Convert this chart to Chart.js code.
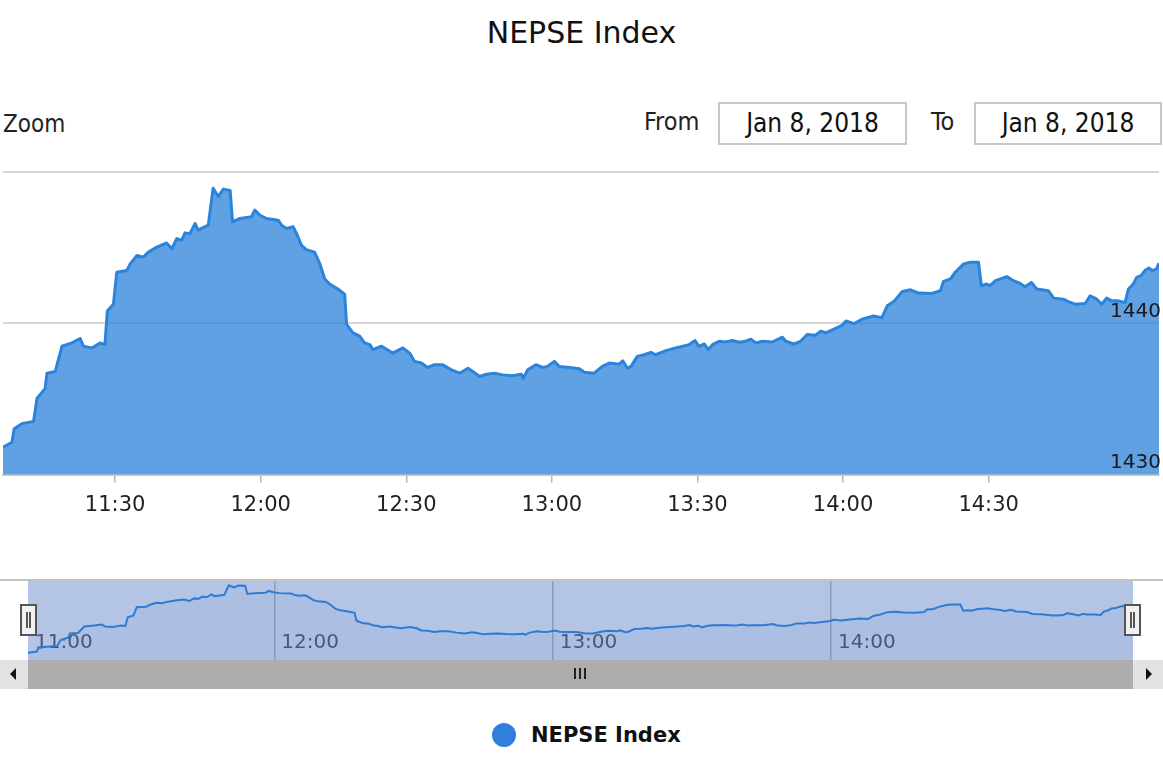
<!DOCTYPE html>
<html><head><meta charset="utf-8">
<script src="https://cdn.jsdelivr.net/npm/chart.js@4.4.1/dist/chart.umd.min.js"></script>
<style>
html,body{margin:0;padding:0;background:#fff;}
body{width:1163px;height:773px;position:relative;overflow:hidden;font-family:'DejaVu Sans',sans-serif;}
.abs{position:absolute;}
#title{left:0;top:12px;width:1163px;text-align:center;font-size:30px;color:#111;line-height:42px;}
.cond{font-family:'DejaVu Sans Condensed','DejaVu Sans',sans-serif;font-stretch:condensed;font-size:24px;color:#222;line-height:32px;}
#zoom{left:3px;top:108px;}
#fromLbl{left:644px;top:106px;font-size:25px;}
#toLbl{left:931px;top:106px;font-size:25px;}
.box{border:2px solid #c8c8c8;box-sizing:border-box;height:43px;top:102px;text-align:center;line-height:39px;color:#111;font-size:26px;}
#fromBox{left:718px;width:189px;}
#toBox{left:974px;width:188px;}
#mainWrap{left:0;top:158px;width:1163px;height:375px;}
#navLine{left:0;top:579px;width:1163px;height:2px;background:#c2c2c2;}
#navWrap{left:28px;top:581px;width:1105px;height:79px;background:#b4c4e4;}
.handle{width:13px;height:28px;top:604px;background:#f2f2f2;border:2px solid #555;}
.handle i{position:absolute;top:6px;width:2px;height:16px;background:#555;}
#hL{left:20px;} #hR{left:1124px;}
#scrollL{left:0;top:660px;width:28px;height:29px;background:#e2e2e2;}
#scrollBar{left:28px;top:660px;width:1105px;height:29px;background:#adadad;}
#scrollR{left:1133px;top:660px;width:30px;height:29px;background:#e2e2e2;}
.tri{position:absolute;top:8px;width:0;height:0;border-top:6px solid transparent;border-bottom:6px solid transparent;}
#triL{left:10px;border-right:6px solid #111;}
#triR{left:13px;border-left:6px solid #111;}
.grip{position:absolute;top:8px;width:2px;height:11px;background:#222;}
#legDot{left:492px;top:723px;width:24px;height:24px;border-radius:50%;background:#2f80db;}
#legTxt{left:531px;top:719px;font-size:21px;font-weight:bold;color:#111;line-height:32px;}
</style></head>
<body>
<div id="title" class="abs">NEPSE Index</div>
<div id="zoom" class="abs cond">Zoom</div>
<div id="fromLbl" class="abs cond">From</div>
<div id="fromBox" class="abs box cond">Jan 8, 2018</div>
<div id="toLbl" class="abs cond">To</div>
<div id="toBox" class="abs box cond">Jan 8, 2018</div>
<div id="mainWrap" class="abs"><canvas id="main" width="1163" height="375"></canvas></div>
<div id="navLine" class="abs"></div>
<div id="navWrap" class="abs"><canvas id="nav" width="1105" height="79"></canvas></div>
<div id="hL" class="abs handle"><i style="left:4px"></i><i style="left:7px"></i></div>
<div id="hR" class="abs handle"><i style="left:4px"></i><i style="left:7px"></i></div>
<div id="scrollL" class="abs"><div id="triL" class="tri"></div></div>
<div id="scrollBar" class="abs"><div class="grip" style="left:546px"></div><div class="grip" style="left:551px"></div><div class="grip" style="left:556px"></div></div>
<div id="scrollR" class="abs"><div id="triR" class="tri"></div></div>
<div id="legDot" class="abs"></div>
<div id="legTxt" class="abs">NEPSE Index</div>
<script>
// Minutes after 11:00 on Jan 8, 2018
const minutes = [6.9,8.75,9.2,10.8,13.2,13.9,15.6,15.95,17.66,19.04,21.1,22.8,23.5,25.2,26.9,27.9,28.4,29.65,30.35,32.4,33.1,34.5,35.8,36.85,38.6,40.6,41.7,42.7,43.7,44.4,45.4,46.5,47.1,49.2,50.2,51.25,52.3,53.7,54.2,55.7,58.1,58.8,59.8,61.2,63.6,64.3,65.3,66.7,67.4,68.4,69.4,71.1,72.2,73.2,74.2,75.9,77.3,77.7,79.0,80.4,81.4,82.5,83.1,84.9,87.2,89.3,90.7,91.7,93.1,94.4,95.8,97.5,99.3,101.0,102.7,103.7,105.1,106.5,108.2,109.9,111.9,113.7,114.1,115.0,116.7,118.1,119.1,120.5,121.5,123.6,125.65,126.7,128.7,130.4,131.8,133.9,134.6,135.6,136.3,137.6,139.0,140.4,141.4,143.5,145.5,148.3,149.5,150.3,151.4,152.25,153.1,154.45,155.8,157.2,158.6,159.9,161.0,162.0,163.4,165.4,167.5,168.2,169.9,171.25,172.6,174.3,175.4,176.4,178.45,179.8,180.6,182.2,183.9,186.3,188.0,189.1,190.45,192.2,193.9,195.6,198.3,200.05,200.7,202.1,203.1,204.85,206.2,207.9,208.5,209.6,210.3,211.4,213.75,215.1,216.5,217.5,218.8,219.9,222.3,223.4,225.4,226.4,227.8,229.9,230.9,232.3,233.3,234.3,235.35,236.7,238.1,238.8,239.8,240.5,241.4,242.2,243.0,243.7,244.6,245.1];
const values = [1431.82,1432.15,1433.04,1433.38,1433.53,1435.04,1435.71,1436.71,1436.82,1438.49,1438.71,1439.0,1438.49,1438.38,1438.71,1438.6,1440.82,1441.27,1443.38,1443.49,1443.93,1444.49,1444.38,1444.71,1445.04,1445.31,1444.93,1445.6,1445.49,1445.98,1445.93,1446.6,1446.16,1446.49,1448.93,1448.38,1448.87,1448.78,1446.71,1446.93,1447.04,1447.49,1447.16,1446.93,1446.82,1446.49,1446.27,1446.38,1445.93,1445.16,1444.87,1444.71,1443.93,1442.93,1442.6,1442.27,1441.93,1439.93,1439.38,1439.16,1438.71,1438.6,1438.27,1438.49,1438.04,1438.38,1438.04,1437.49,1437.38,1437.09,1437.27,1437.27,1436.93,1436.71,1437.04,1436.82,1436.49,1436.64,1436.71,1436.6,1436.55,1436.64,1436.38,1436.93,1437.27,1437.09,1437.16,1437.49,1437.16,1437.08,1437.0,1436.78,1436.71,1437.16,1437.38,1437.31,1437.53,1437.04,1437.16,1437.82,1437.93,1438.09,1437.93,1438.2,1438.38,1438.6,1438.87,1438.49,1438.64,1438.27,1438.6,1438.82,1438.78,1438.87,1438.76,1438.82,1438.96,1438.71,1438.82,1438.77,1439.09,1438.82,1438.64,1438.82,1439.27,1439.22,1439.49,1439.38,1439.67,1439.87,1440.16,1439.98,1440.27,1440.49,1440.38,1441.16,1441.44,1442.11,1442.22,1442.0,1441.98,1442.16,1442.78,1442.93,1443.38,1443.93,1444.04,1444.04,1442.49,1442.6,1442.49,1442.82,1443.09,1442.82,1442.64,1442.42,1442.71,1442.27,1442.16,1441.67,1441.6,1441.44,1441.27,1441.31,1441.82,1441.6,1441.27,1441.67,1441.49,1441.49,1441.38,1442.27,1442.6,1443.04,1443.16,1443.49,1443.66,1443.49,1443.6,1443.98];
const mainTickMinutes = [30,60,90,120,150,180,210];
const yTickValues = [1430,1440,1450];
const navTickMinutes = [60,120,180];
const navTickLabels = ['11:00','12:00','13:00','14:00'];
const startHour = 11;

function fmt(m){const t=Math.round(m);return (startHour+Math.floor(t/60))+':'+String(t%60).padStart(2,'0');}
const points = minutes.map((m,i)=>({x:m,y:values[i]}));
const xMin = minutes[0], xMax = minutes[minutes.length-1];

new Chart(document.getElementById('main'),{
  type:'line',
  data:{datasets:[{label:'NEPSE Index',data:points,borderColor:'#2a84dc',borderWidth:3,
    backgroundColor:'rgba(42,130,218,0.75)',fill:'start',pointRadius:0,tension:0,borderJoinStyle:'round'}]},
  options:{animation:false,responsive:false,events:[],
    layout:{padding:{left:3,right:0,top:10,bottom:5}},
    plugins:{legend:{display:false},tooltip:{enabled:false}},
    scales:{
      x:{type:'linear',min:xMin,max:xMax,
        afterBuildTicks:s=>{s.ticks=mainTickMinutes.map(v=>({value:v}));},
        grid:{drawOnChartArea:false,drawTicks:true,tickLength:8,color:'#b8b8b8',lineWidth:1.5},
        border:{display:true,color:'#cccccc',width:2},
        ticks:{padding:10,maxRotation:0,autoSkip:false,color:'#222',font:{family:'DejaVu Sans',size:21},callback:v=>fmt(v)}},
      y:{position:'right',min:1430,max:1450,
        afterBuildTicks:s=>{s.ticks=yTickValues.map(v=>({value:v}));},
        grid:{drawTicks:false,color:'#d6d6d6',lineWidth:2},border:{display:false},
        ticks:{z:1,mirror:true,padding:2,labelOffset:-12,color:'#1a1a1a',font:{family:'DejaVu Sans',size:20},
          callback:v=>v===1450?'':String(v)}}
    }}
});

new Chart(document.getElementById('nav'),{
  type:'line',
  data:{datasets:[{data:points,borderColor:'#2d7bd2',borderWidth:2,backgroundColor:'rgba(45,123,210,0.06)',
    fill:'start',pointRadius:0,tension:0}]},
  options:{animation:false,responsive:false,events:[],
    layout:{padding:0},
    plugins:{legend:{display:false},tooltip:{enabled:false}},
    scales:{
      x:{type:'linear',min:xMin,max:xMax,
        afterBuildTicks:s=>{s.ticks=[xMin].concat(navTickMinutes).map(v=>({value:v}));},
        grid:{drawOnChartArea:true,drawTicks:false,lineWidth:1.5,color:c=>c.index===0?'rgba(0,0,0,0)':'#8e9cba'},
        border:{display:false},
        ticks:{align:'start',labelOffset:7,padding:-34,maxRotation:0,autoSkip:false,color:'#4a5570',
          font:{family:'DejaVu Sans',size:20,lineHeight:'34px'},callback:(v,i)=>navTickLabels[i]}},
      y:{display:false,min:1430,max:1450}
    }}
});
</script>
</body></html>
